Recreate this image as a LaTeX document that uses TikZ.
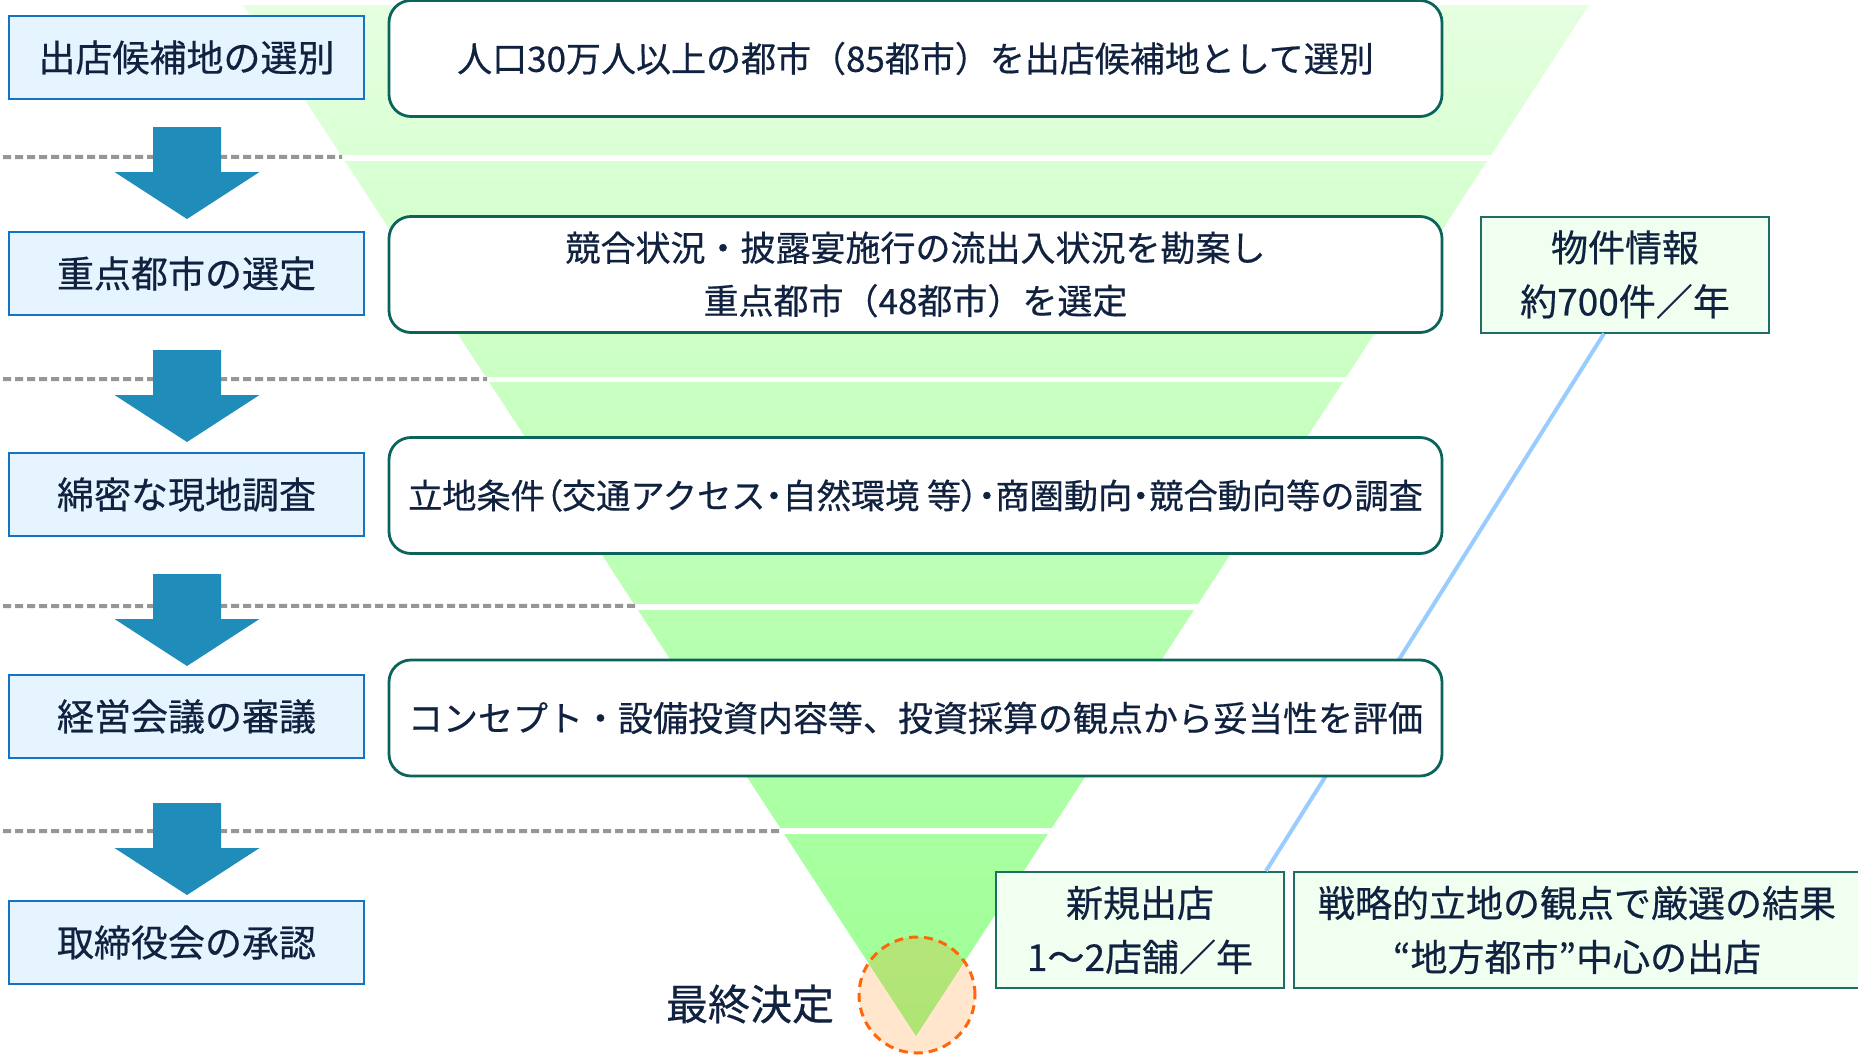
\documentclass[tikz,border=0pt]{standalone}
\usepackage{fontspec}
\setmainfont{Noto Sans CJK JP}[FakeBold=0.5]
\newfontfamily\jpp[RawFeature=+palt,FakeBold=0.5]{Noto Sans CJK JP}
\usetikzlibrary{calc}
\definecolor{txt}{RGB}{17,34,64}
\definecolor{lblue}{RGB}{20,115,195}
\definecolor{lfill}{RGB}{230,244,255}
\definecolor{tealA}{RGB}{10,100,90}
\definecolor{tealB}{RGB}{30,110,100}
\definecolor{gfill}{RGB}{240,255,240}
\definecolor{arrowblue}{RGB}{32,140,186}
\definecolor{dotgray}{RGB}{150,150,150}
\definecolor{ftop}{RGB}{229,255,224}
\definecolor{fbot}{RGB}{155,255,146}
\definecolor{linkblue}{RGB}{153,204,255}
\definecolor{orfill}{RGB}{255,128,0}
\definecolor{ordraw}{RGB}{255,102,10}
\tikzset{
 lbox/.style={draw=lblue, line width=1.2pt, fill=lfill, minimum width=177.5pt, minimum height=41.5pt, inner sep=0pt, text=txt, font=\fontsize{18.5}{22}\selectfont},
 rbox/.style={draw=tealA, line width=1.4pt, fill=white, rounded corners=11pt, minimum width=526.5pt, minimum height=58pt, inner sep=0pt, text=txt, align=center, font=\fontsize{17.5}{26.5}\selectfont},
 gbox/.style={draw=tealB, line width=1pt, fill=gfill, minimum height=58pt, inner sep=0pt, text=txt, align=center, font=\fontsize{18.5}{27}\selectfont},
 dotline/.style={draw=dotgray, line width=2pt, dash pattern=on 4pt off 2pt},
 barrow/.pic={\fill[arrowblue] (-34,0) -- (34,0) -- (34,45) -- (72.5,45) -- (0,92) -- (-72.5,45) -- (-34,45) -- cycle;}
}
\begin{document}
\begin{tikzpicture}[x=0.5pt,y=-0.5pt]
\useasboundingbox (0,0) rectangle (1858,1055);
% funnel
\coordinate (ftl) at (243,5);
\coordinate (ftr) at (1589,5);
\coordinate (fap) at (916,1036);
\shade[top color=ftop, bottom color=fbot] (ftl) -- (ftr) -- (fap) -- cycle;
\begin{scope}
 \clip (ftl) -- (ftr) -- (fap) -- cycle;
 \fill[white] (200,155) rectangle (1650,161);
 \fill[white] (200,377) rectangle (1650,382);
 \fill[white] (200,604) rectangle (1650,610);
 \fill[white] (200,828) rectangle (1650,834);
\end{scope}
% dotted separators
\coordinate (d1) at (3,157);
\coordinate (d2) at (3,379);
\coordinate (d3) at (3,606);
\coordinate (d4) at (3,831);
\draw[dotline] (d1) -- ($(ftl)!0.1474!(fap)$);
\draw[dotline] (d2) -- ($(ftl)!0.3628!(fap)$);
\draw[dotline] (d3) -- ($(ftl)!0.5829!(fap)$);
\draw[dotline] (d4) -- ($(ftl)!0.8012!(fap)$);
% side boxes
\node[gbox, minimum width=144pt] (wk) at (1625,274.5) {物件情報\\約700件／年};
\node[gbox, minimum width=144pt] (nb) at (1140,930) {新規出店\\1〜2店舗／年};
\node[gbox, minimum width=283pt] (st) at (1577,930) {戦略的立地の観点で厳選の結果\\“地方都市”中心の出店};
\draw[linkblue, line width=2pt] ($(wk.south)+(-21,0)$) -- ($(nb.north east)+(-19,0)$);
% arrows
\pic at (187,127) {barrow};
\pic at (187,350) {barrow};
\pic at (187,574) {barrow};
\pic at (187,803) {barrow};
% left boxes
\node[lbox] (l1) at (186.5,57.5) {出店候補地の選別};
\node[lbox] (l2) at (186.5,273.5) {重点都市の選定};
\node[lbox] (l3) at (186.5,494.5) {綿密な現地調査};
\node[lbox] (l4) at (186.5,716.5) {経営会議の審議};
\node[lbox] (l5) at (186.5,942.5) {取締役会の承認};
% main rounded boxes
\node[rbox] (r1) at (915.5,58.5) {人口30万人以上の都市（85都市）を出店候補地として選別};
\node[rbox] (r2) at (915.5,274.5) {競合状況・披露宴施行の流出入状況を勘案し\\重点都市（48都市）を選定};
\node[rbox, font=\fontsize{17.1}{26.5}\selectfont] (r3) at (915.5,495.5) {立地条件{\jpp（}交通アクセス{\jpp・}自然環境 等{\jpp）・}商圏動向{\jpp・}競合動向等の調査};
\node[rbox] (r4) at (915.5,718) {コンセプト・設備投資内容等、投資採算の観点から妥当性を評価};
% final decision
\node[circle, minimum size=58pt, inner sep=0pt, fill=orfill, fill opacity=0.2, draw=ordraw, draw opacity=1, line width=1.5pt, dash pattern=on 4.5pt off 3pt] (fin) at (917,995) {};
\node[text=txt, font=\fontsize{21}{25}\selectfont] (fl) at (750,1004) {最終決定};
\end{tikzpicture}
\end{document}
